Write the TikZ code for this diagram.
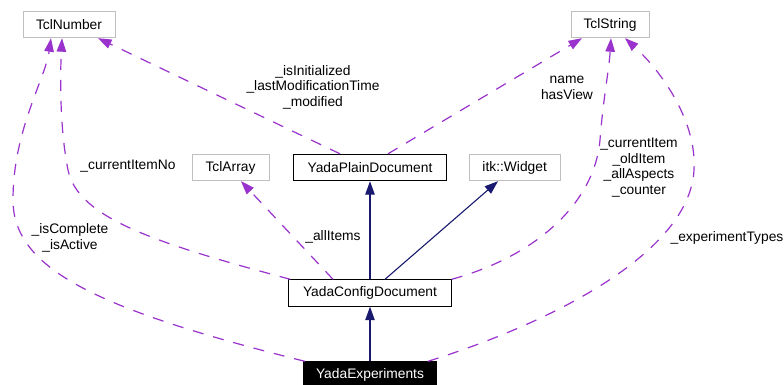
\documentclass[tikz,border=0pt]{standalone}
\usepackage{fontspec}
\setmainfont{Liberation Sans}
\usetikzlibrary{arrows.meta}
\definecolor{edgepurple}{HTML}{9A32CD}
\definecolor{edgenavy}{HTML}{191970}
\definecolor{boxgray}{HTML}{BFBFBF}
\begin{document}
\begin{tikzpicture}[x=1pt,y=-1pt,
  every node/.style={font=\fontsize{13.8}{15.5}\selectfont, inner sep=0pt},
  cls/.style={draw, rectangle, minimum height=26.5pt, line width=0.9pt},
  grayclass/.style={cls, draw=boxgray},
  blackclass/.style={cls, draw=black},
  focusclass/.style={cls, draw=black, fill=black, text=white},
  usage/.style={draw=edgepurple, line width=1.2pt, dash pattern=on 11pt off 10pt, -{Triangle[length=13.5pt,width=9.5pt,fill=edgepurple]}},
  inherit/.style={draw=edgenavy, line width=1.1pt, -{Triangle[length=13.5pt,width=9.5pt,fill=edgenavy]}},
  lbl/.style={align=center, text=black}
]
\useasboundingbox[fill=white] (0,0) rectangle (784,385);

% classes
\node[grayclass, minimum width=92pt] (tclnum) at (69,24.5) {TclNumber};
\node[grayclass, minimum width=78pt] (tclstr) at (610,24.5) {TclString};
\node[grayclass, minimum width=77pt] (tclarr) at (230.5,167.5) {TclArray};
\node[blackclass, minimum width=152.5pt] (plain) at (370,167.5) {YadaPlainDocument};
\node[grayclass, minimum width=90.5pt] (widget) at (514.7,167.5) {itk::Widget};
\node[blackclass, minimum width=162.5pt] (config) at (370,293) {YadaConfigDocument};
\node[focusclass, minimum width=133.5pt] (yexp) at (370,375) {YadaExperiments};

% inheritance
\draw[inherit] (config.north) -- (plain.south);
\draw[inherit] ([xshift=15pt]config.north) -- ([xshift=-16.7pt]widget.south);
\draw[inherit] (yexp.north) -- (config.south);

% usage
\draw[usage] ([xshift=-30pt]plain.north) -- ([xshift=29pt]tclnum.south);
\draw[usage] ([xshift=18pt]plain.north) -- ([xshift=-28pt]tclstr.south);
\draw[usage] ([xshift=-37pt]config.north) -- ([xshift=10.5pt]tclarr.south);
\draw[usage] ([xshift=2pt]config.north west) .. controls (155,243) and (78,218) .. (68,170)
  .. controls (60,130) and (60,80) .. ([xshift=-7pt]tclnum.south);
\draw[usage] ([xshift=2pt]yexp.north west) .. controls (100,310) and (13,270) .. (13,200)
  .. controls (13,130) and (45,80) .. ([xshift=-18pt]tclnum.south);
\draw[usage] (config.north east) .. controls (540,255) and (595,200) .. (600,140)
  .. controls (603,100) and (609,70) .. ([xshift=1pt]tclstr.south);
\draw[usage] ([xshift=58pt]yexp.north) .. controls (560,320) and (690,250) .. (694,170)
  .. controls (697,120) and (660,70) .. ([xshift=15pt]tclstr.south);

% labels
\node[lbl] (l1) at (313,87) {\_isInitialized\\\_lastModificationTime\\\_modified};
\node[lbl] (l2) at (567,88) {name\\hasView};
\node[lbl] (l3) at (333,237) {\_allItems};
\node[lbl] (l4) at (128,166) {\_currentItemNo};
\node[lbl] (l5) at (70,238) {\_isComplete\\\_isActive};
\node[lbl] (l6) at (639,167.5) {\_currentItem\\\_oldItem\\\_allAspects\\\_counter};
\node[lbl] (l7) at (727,238) {\_experimentTypes};
\end{tikzpicture}
\end{document}
